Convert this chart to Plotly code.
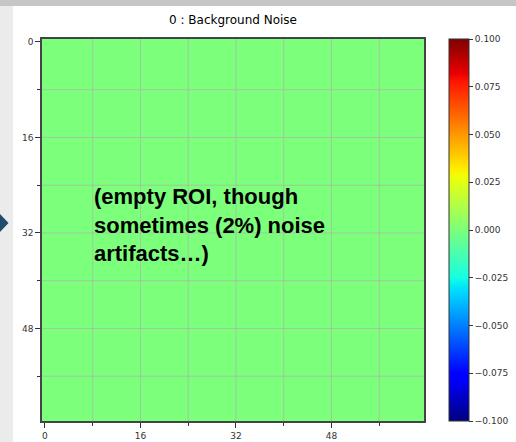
import numpy as np
import plotly.graph_objects as go

# ---- data ----
n_rows = 64
n_cols = 64
roi_values = np.zeros((n_rows, n_cols))
x_index = list(range(n_cols))
y_index = list(range(n_rows))
major_ticks = [0, 16, 32, 48]
minor_step = 8
cbar_ticks = [-0.100, -0.075, -0.050, -0.025, 0.000, 0.025, 0.050, 0.075, 0.100]
cbar_labels = [("\u2212%.3f" % abs(v)) if v < 0 else "%.3f" % v for v in cbar_ticks]
zmin, zmax = -0.1, 0.1
title_text = "0 : Background Noise"
note_text = "(empty ROI, though<br>sometimes (2%) noise<br>artifacts\u2026)"

# ---- matplotlib 'jet' colormap ----
jet = {
    "r": [(0, 0), (0.35, 0), (0.66, 1), (0.89, 1), (1, 0.5)],
    "g": [(0, 0), (0.125, 0), (0.375, 1), (0.64, 1), (0.91, 0), (1, 0)],
    "b": [(0, 0.5), (0.11, 1), (0.34, 1), (0.65, 0), (1, 0)],
}
stops = sorted({p for ch in jet.values() for p, _ in ch})
def chan(ch, t):
    xs = [p for p, _ in jet[ch]]
    ys = [v for _, v in jet[ch]]
    return float(np.interp(t, xs, ys))
colorscale = [[t, "rgb(%d,%d,%d)" % tuple(round(255 * chan(c, t)) for c in "rgb")] for t in stops]

# ---- layout geometry (pixels) ----
W, H = 516, 442
L, T, PW, PH = 42, 39, 382, 382
def px(x):
    return (x - L) / PW
def py(y):
    return (T + PH - y) / PH

fig = go.Figure(go.Heatmap(
    z=roi_values, x=x_index, y=y_index,
    colorscale=colorscale, zmin=zmin, zmax=zmax,
    hoverinfo="skip",
    colorbar=dict(
        x=px(449), xanchor="left", xpad=0, y=0.5, yanchor="middle", ypad=0,
        len=1, lenmode="fraction", thickness=20, thicknessmode="pixels",
        outlinewidth=1, outlinecolor="#333333",
        tickvals=cbar_ticks, ticktext=cbar_labels,
        ticks="outside", ticklen=4, tickwidth=1, tickcolor="#333333",
        tickfont=dict(family="DejaVu Sans", size=9, color="#333333"),
    ),
))

# gridlines drawn above the image (as matplotlib does)
grid_vals = list(range(minor_step, n_cols, minor_step))
grid_color = "rgba(176,176,176,0.7)"
shapes = []
for v in grid_vals:
    shapes.append(dict(type="line", xref="x", yref="paper", x0=v, x1=v, y0=0, y1=1,
                       line=dict(color=grid_color, width=1), layer="above"))
    shapes.append(dict(type="line", xref="paper", yref="y", x0=0, x1=1, y0=v, y1=v,
                       line=dict(color=grid_color, width=1), layer="above"))

# slide background bands and arrow
shapes.append(dict(type="rect", xref="paper", yref="paper", x0=px(0), x1=px(W), y0=py(6), y1=py(0),
                   fillcolor="#c6c6c6", line=dict(width=0), layer="below"))
shapes.append(dict(type="rect", xref="paper", yref="paper", x0=px(0), x1=px(13), y0=py(H), y1=py(6),
                   fillcolor="#ebebeb", line=dict(width=0), layer="below"))
shapes.append(dict(type="path", xref="paper", yref="paper",
                   path="M %f %f L %f %f L %f %f Z" % (px(0), py(214), px(8.5), py(223), px(0), py(232)),
                   fillcolor="#1f4d6a", line=dict(width=0), layer="below"))

axis_common = dict(
    showline=True, mirror=True, linecolor="#444444", linewidth=1.5,
    ticks="outside", ticklen=5, tickwidth=1, tickcolor="#333333",
    tickvals=major_ticks, ticktext=[str(v) for v in major_ticks],
    tickfont=dict(family="DejaVu Sans", size=9, color="#333333"),
    showgrid=False, zeroline=False, automargin=False,
    minor=dict(tick0=0, dtick=minor_step, ticks="outside", ticklen=3, tickcolor="#333333", showgrid=False),
)
fig.update_xaxes(range=[-0.5, n_cols - 0.5], **axis_common)
fig.update_yaxes(range=[n_rows - 0.5, -0.5], **axis_common)

fig.update_layout(
    width=W, height=H,
    margin=dict(l=L, r=W - L - PW, t=T, b=H - T - PH, pad=0, autoexpand=False),
    paper_bgcolor="white", plot_bgcolor="white",
    shapes=shapes,
    title=dict(text=title_text, x=0.5, xref="paper", xanchor="center",
               y=1 - 20 / H, yref="container", yanchor="middle",
               font=dict(family="DejaVu Sans", size=12, color="black")),
    annotations=[dict(text="<b>" + note_text + "</b>", xref="paper", yref="paper",
                      x=px(92), y=py(225), xanchor="left", yanchor="middle", align="left",
                      showarrow=False,
                      font=dict(family="Liberation Sans", size=22, color="black"))],
)

fig.write_html("out.html")
